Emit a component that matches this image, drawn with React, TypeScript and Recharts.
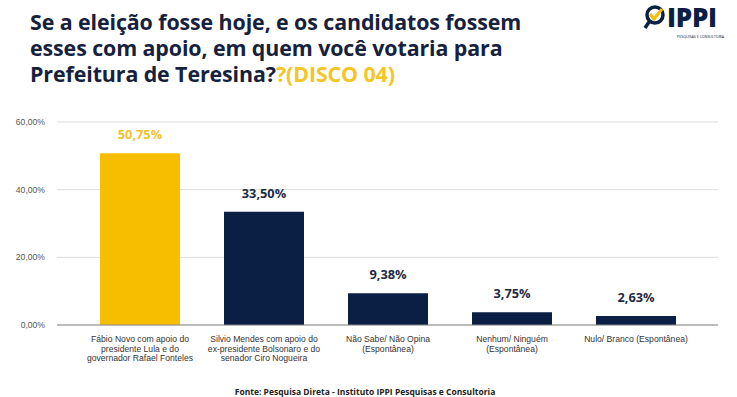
import { Bar, BarChart, CartesianGrid, Cell, LabelList, XAxis, YAxis } from "recharts";

const categories = [
  "Fábio Novo com apoio do\npresidente Lula e do\ngovernador Rafael Fonteles",
  "Silvio Mendes com apoio do\nex-presidente Bolsonaro e do\nsenador Ciro Nogueira",
  "Não Sabe/ Não Opina\n(Espontânea)",
  "Nenhum/ Ninguém\n(Espontânea)",
  "Nulo/ Branco (Espontânea)",
];
const values = [50.75, 33.5, 9.38, 3.75, 2.63];
const yTicks = [0, 20, 40, 60];

const data = categories.map((name, i) => ({ name, value: values[i] }));

const YELLOW = "#f7be00";
const NAVY = "#0b1f44";
const fmt = (v: number) => v.toFixed(2).replace(".", ",") + "%";

function CategoryTick(props: any) {
  const { x, y, payload } = props;
  const lines = String(payload.value).split("\n");
  return (
    <text x={x} y={y + 9} textAnchor="middle" fontSize={8.6} fill="#333" fontFamily="Liberation Sans, Arial, sans-serif">
      {lines.map((l, i) => (
        <tspan key={i} x={x} dy={i === 0 ? 0 : 9.6}>
          {l}
        </tspan>
      ))}
    </text>
  );
}

function Logo() {
  return (
    <svg width={100} height={46} style={{ position: "absolute", left: 640, top: 0 }}>
      <circle cx={15} cy={15} r={8} fill="none" stroke={NAVY} strokeWidth={3.5} />
      <path d="M10 14 L14 19 L22 9" fill="none" stroke={YELLOW} strokeWidth={3} />
      <path d="M9 22 L5 28" stroke={NAVY} strokeWidth={3.5} />
      <text x={27} y={27} fontSize={26} fontWeight={800} fill={NAVY} fontFamily="Open Sans, sans-serif" letterSpacing={-0.3}>
        IPPI
      </text>
      <text x={37} y={38} fontSize={3.6} fill={NAVY} fontFamily="Open Sans, sans-serif">
        PESQUISAS E CONSULTORIA
      </text>
    </svg>
  );
}

const titleLine = { height: 26, lineHeight: "26px", whiteSpace: "nowrap" as const };

export default function App() {
  return (
    <div style={{ position: "fixed", left: 0, top: 0, width: 737, height: 397, background: "#fff", overflow: "hidden" }}>
      <div
        style={{
          position: "absolute",
          left: 30,
          top: 9,
          fontFamily: "Open Sans, sans-serif",
          fontWeight: 700,
          fontSize: 21.4,
          color: "#16213d",
          letterSpacing: -0.1,
        }}
      >
        <div style={titleLine}>Se a eleição fosse hoje, e os candidatos fossem</div>
        <div style={titleLine}>esses com apoio, em quem você votaria para</div>
        <div style={titleLine}>
          Prefeitura de Teresina?<span style={{ color: "#f5c425" }}>?(DISCO 04)</span>
        </div>
      </div>
      <Logo />
      <div style={{ position: "absolute", left: 0, top: 0 }}>
        <BarChart width={737} height={397} data={data} margin={{ top: 122, right: 19, bottom: 32, left: 0 }} barSize={80}>
          <CartesianGrid vertical={false} stroke="#dddddd" />
          <XAxis
            dataKey="name"
            height={40}
            interval={0}
            tickLine={false}
            axisLine={{ stroke: "#888" }}
            tick={<CategoryTick />}
            padding={{ left: 21, right: 20 }}
          />
          <YAxis
            width={57}
            domain={[0, 60]}
            ticks={yTicks}
            tickFormatter={fmt}
            tickLine={false}
            axisLine={false}
            tickMargin={6}
            tick={{ fontSize: 8.6, fill: "#555", fontFamily: "Liberation Sans, Arial, sans-serif" }}
          />
          <Bar dataKey="value" isAnimationActive={false}>
            {data.map((d, i) => (
              <Cell key={d.name} fill={i === 0 ? YELLOW : NAVY} />
            ))}
            <LabelList
              dataKey="value"
              position="top"
              content={(p: any) => (
                <text
                  x={p.x + p.width / 2}
                  y={p.y - 14}
                  textAnchor="middle"
                  fontSize={12.8}
                  fontWeight={700}
                  fontFamily="Open Sans, sans-serif"
                  fill={p.index === 0 ? "#f2c12e" : "#1e2a44"}
                >
                  {fmt(Number(p.value))}
                </text>
              )}
            />
          </Bar>
        </BarChart>
      </div>
      <div
        style={{
          position: "absolute",
          left: 0,
          width: 730,
          top: 386,
          lineHeight: "11px",
          textAlign: "center",
          fontFamily: "Open Sans, sans-serif",
          fontWeight: 700,
          fontSize: 8.5,
          color: "#222",
        }}
      >
        Fonte: Pesquisa Direta - Instituto IPPI Pesquisas e Consultoria
      </div>
    </div>
  );
}
